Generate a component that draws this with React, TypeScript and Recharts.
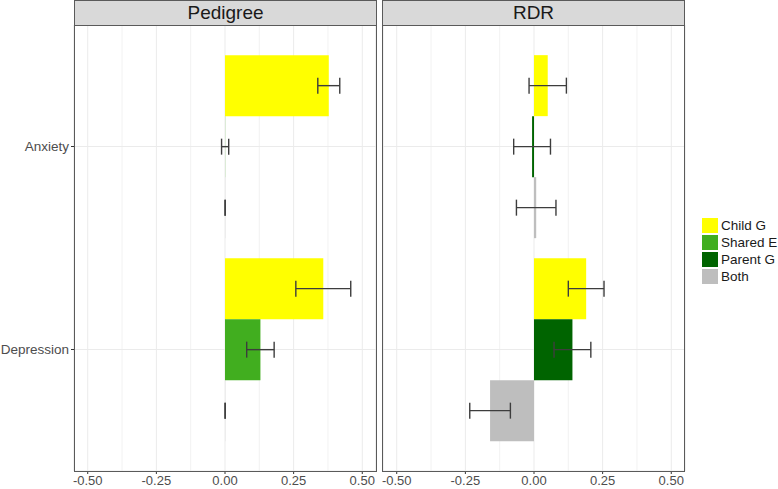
import React from 'react';
import { BarChart, Bar, XAxis, YAxis, CartesianGrid, ErrorBar } from 'recharts';

const categories = ['Anxiety', 'Depression'];
const xTicks = [-0.5, -0.25, 0, 0.25, 0.5];
const minorTicks = [-0.375, -0.125, 0.125, 0.375];

// Pedigree panel (values read as ~0 are kept just above zero so the error bar still draws)
const pedigreeChildG = [0.378, 0.358];
const pedigreeChildGErr = [0.04, 0.1];
const pedigreeSharedE = [0.0005, 0.129];
const pedigreeSharedEErr = [0.013, 0.05];
const pedigreeBoth = [0.0005, 0.0005];
const pedigreeBothErr = [0, 0];

// RDR panel
const rdrChildG = [0.05, 0.19];
const rdrChildGErr = [0.068, 0.065];
const rdrParentG = [-0.007, 0.14];
const rdrParentGErr = [0.067, 0.067];
const rdrBoth = [0.008, -0.16];
const rdrBothErr = [0.072, 0.074];

const legendItems = [
  { label: 'Child G', color: '#ffff00' },
  { label: 'Shared E', color: '#41ae1f' },
  { label: 'Parent G', color: '#006400' },
  { label: 'Both', color: '#bebebe' },
];

const font = '"Liberation Sans", Arial, Helvetica, sans-serif';

// a zero error is passed as [0, 0] so recharts still draws the cap
const err = (v: number) => (v === 0 ? [0, 0] : v);

const makeRows = (childG: number[], childGErr: number[], mid: number[], midErr: number[], both: number[], bothErr: number[]) =>
  categories.map((name, i) => ({
    name,
    childG: childG[i],
    childGErr: err(childGErr[i]),
    mid: mid[i],
    midErr: err(midErr[i]),
    both: both[i],
    bothErr: err(bothErr[i]),
  }));

const pedigreeRows = makeRows(pedigreeChildG, pedigreeChildGErr, pedigreeSharedE, pedigreeSharedEErr, pedigreeBoth, pedigreeBothErr);
const rdrRows = makeRows(rdrChildG, rdrChildGErr, rdrParentG, rdrParentGErr, rdrBoth, rdrBothErr);

interface PanelProps {
  rows: ReturnType<typeof makeRows>;
  midColor: string;
  showLabels: boolean;
  width: number;
  margin: { top: number; right: number; bottom: number; left: number };
}

function Panel({ rows, midColor, showLabels, width, margin }: PanelProps) {
  const errStyle = { stroke: '#3d3d3d', strokeWidth: 1.4 };
  return (
    <BarChart
      width={width}
      height={489}
      data={rows}
      layout="vertical"
      margin={margin}
      barCategoryGap="5%"
      barGap={0}
    >
      <CartesianGrid xAxisId="minor" stroke="#ededed" strokeWidth={0.7} horizontal={false} />
      <CartesianGrid stroke="#ebebeb" strokeWidth={1} />
      <XAxis
        xAxisId="minor"
        type="number"
        domain={[-0.55, 0.55]}
        allowDataOverflow
        ticks={minorTicks}
        interval={0}
        hide
      />
      <XAxis
        type="number"
        domain={[-0.55, 0.55]}
        allowDataOverflow
        ticks={xTicks}
        interval={0}
        tickFormatter={(v: number) => v.toFixed(2)}
        height={18}
        tickSize={3}
        axisLine={false}
        tickLine={{ stroke: '#333333' }}
        tick={{ fill: '#4d4d4d', fontSize: 13, fontFamily: font }}
      />
      <YAxis
        type="category"
        dataKey="name"
        width={74}
        hide={!showLabels}
        padding={{ top: 20, bottom: 20 }}
        tickSize={3}
        axisLine={false}
        tickLine={{ stroke: '#333333' }}
        tick={{ fill: '#4d4d4d', fontSize: 13.5, fontFamily: font }}
      />
      <Bar dataKey="childG" fill="#ffff00" isAnimationActive={false}>
        <ErrorBar dataKey="childGErr" direction="x" width={8} {...errStyle} isAnimationActive={false} />
      </Bar>
      <Bar dataKey="mid" fill={midColor} isAnimationActive={false}>
        <ErrorBar dataKey="midErr" direction="x" width={8} {...errStyle} isAnimationActive={false} />
      </Bar>
      <Bar dataKey="both" fill="#bebebe" isAnimationActive={false}>
        <ErrorBar dataKey="bothErr" direction="x" width={8} {...errStyle} isAnimationActive={false} />
      </Bar>
    </BarChart>
  );
}

function Strip({ left, title }: { left: number; title: string }) {
  return (
    <>
      <div
        style={{
          position: 'absolute',
          left,
          top: 0,
          width: 303,
          height: 26,
          boxSizing: 'border-box',
          background: '#d9d9d9',
          border: '1px solid #5a5a5a',
          textAlign: 'center',
          fontSize: 19,
          lineHeight: '24px',
          color: '#1a1a1a',
          fontFamily: font,
        }}
      >
        {title}
      </div>
      <div
        style={{
          position: 'absolute',
          left,
          top: 25,
          width: 303,
          height: 447,
          boxSizing: 'border-box',
          border: '1px solid #5a5a5a',
          pointerEvents: 'none',
        }}
      />
    </>
  );
}

export default function App() {
  return (
    <div style={{ position: 'absolute', left: 0, top: 0, width: 778, height: 489, background: '#ffffff', fontFamily: font }}>
      <div style={{ position: 'absolute', left: 0, top: 0 }}>
        <Panel rows={pedigreeRows} midColor="#41ae1f" showLabels width={390} margin={{ top: 25, right: 14, bottom: 0, left: 0 }} />
      </div>
      <div style={{ position: 'absolute', left: 380, top: 0 }}>
        <Panel rows={rdrRows} midColor="#006400" showLabels={false} width={398} margin={{ top: 25, right: 93, bottom: 0, left: 3 }} />
      </div>
      <Strip left={74} title="Pedigree" />
      <Strip left={382} title="RDR" />
      <div style={{ position: 'absolute', left: 702, top: 217 }}>
        {legendItems.map((item) => (
          <div key={item.label} style={{ display: 'flex', alignItems: 'center', height: 17 }}>
            <div style={{ width: 15.5, height: 15.5, background: item.color, marginRight: 3.5 }} />
            <span style={{ fontSize: 13.5, color: '#1a1a1a', whiteSpace: 'nowrap' }}>{item.label}</span>
          </div>
        ))}
      </div>
    </div>
  );
}
